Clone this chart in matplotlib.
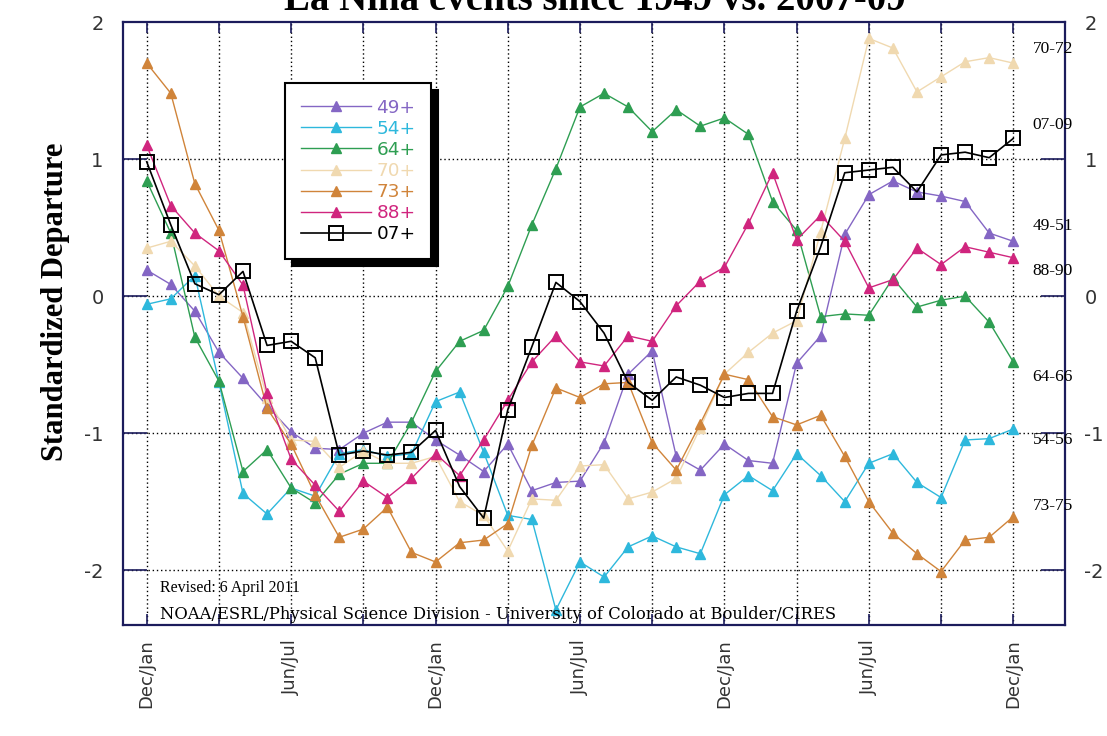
import matplotlib
matplotlib.use("Agg")
import matplotlib.pyplot as plt

# ---------------- data ----------------
periods = list(range(37))
tick_positions = [0, 6, 12, 18, 24, 30, 36]
tick_labels = ["Dec/Jan", "Jun/Jul", "Dec/Jan", "Jun/Jul", "Dec/Jan", "Jun/Jul", "Dec/Jan"]

s49 = [0.19, 0.085, -0.11, -0.41, -0.60, -0.80, -0.99, -1.11, -1.12, -1.00, -0.92, -0.92,
       -1.05, -1.16, -1.28, -1.08, -1.42, -1.36, -1.35, -1.07, -0.57, -0.40, -1.17, -1.27,
       -1.08, -1.20, -1.22, -0.49, -0.29, 0.45, 0.74, 0.84, 0.76, 0.73, 0.69, 0.46, 0.40]
s54 = [-0.06, -0.02, 0.15, -0.63, -1.44, -1.59, -1.40, -1.46, -1.15, -1.12, -1.17, -1.15,
       -0.77, -0.70, -1.14, -1.60, -1.63, -2.29, -1.94, -2.05, -1.83, -1.75, -1.83, -1.88,
       -1.45, -1.31, -1.42, -1.15, -1.31, -1.50, -1.22, -1.15, -1.36, -1.47, -1.05, -1.04, -0.97]
s64 = [0.84, 0.46, -0.30, -0.62, -1.28, -1.12, -1.40, -1.51, -1.30, -1.22, -1.22, -0.92,
       -0.55, -0.33, -0.25, 0.07, 0.52, 0.93, 1.38, 1.48, 1.38, 1.20, 1.36, 1.24,
       1.30, 1.18, 0.69, 0.48, -0.15, -0.13, -0.14, 0.13, -0.08, -0.03, 0.00, -0.19, -0.48]
s70 = [0.35, 0.40, 0.22, 0.00, -0.12, -0.74, -1.05, -1.06, -1.25, -1.13, -1.22, -1.22,
       -1.17, -1.50, -1.60, -1.86, -1.48, -1.49, -1.24, -1.23, -1.48, -1.43, -1.33, -0.96,
       -0.57, -0.41, -0.27, -0.18, 0.47, 1.15, 1.88, 1.81, 1.49, 1.60, 1.71, 1.74, 1.70]
s73 = [1.70, 1.48, 0.82, 0.48, -0.15, -0.82, -1.08, -1.45, -1.76, -1.70, -1.54, -1.87,
       -1.94, -1.80, -1.78, -1.66, -1.09, -0.67, -0.74, -0.64, -0.63, -1.07, -1.27, -0.93,
       -0.57, -0.61, -0.88, -0.94, -0.87, -1.17, -1.50, -1.73, -1.88, -2.01, -1.78, -1.76, -1.61]
s88 = [1.10, 0.66, 0.46, 0.33, 0.08, -0.71, -1.19, -1.38, -1.57, -1.35, -1.47, -1.33,
       -1.15, -1.31, -1.05, -0.76, -0.48, -0.29, -0.48, -0.51, -0.29, -0.33, -0.07, 0.11,
       0.21, 0.53, 0.90, 0.41, 0.59, 0.40, 0.06, 0.12, 0.35, 0.23, 0.36, 0.32, 0.28]
s07 = [0.98, 0.52, 0.09, 0.01, 0.18, -0.36, -0.33, -0.45, -1.16, -1.13, -1.16, -1.14,
       -0.98, -1.39, -1.62, -0.83, -0.37, 0.10, -0.04, -0.27, -0.63, -0.76, -0.59, -0.65,
       -0.74, -0.71, -0.71, -0.11, 0.36, 0.90, 0.92, 0.94, 0.76, 1.03, 1.05, 1.01, 1.15]

series_names = ["49+", "54+", "64+", "70+", "73+", "88+", "07+"]
series_values = [s49, s54, s64, s70, s73, s88, s07]
series_colors = ["#8466C4", "#2EB8DC", "#2E9E52", "#F0D9B0", "#D0843A", "#D0257E", "#000000"]

end_labels = ["70-72", "07-09", "49-51", "88-90", "64-66", "54-56", "73-75"]
end_label_y = [1.80, 1.25, 0.51, 0.18, -0.59, -1.05, -1.53]

title = "La Niña events since 1949 vs. 2007-09"
ylabel = "Standardized Departure"
note1 = "Revised: 6 April 2011"
note2 = "NOAA/ESRL/Physical Science Division - University of Colorado at Boulder/CIRES"

# ---------------- figure ----------------
W, H = 1107, 736
fig = plt.figure(figsize=(W / 100, H / 100), dpi=100)
ax = fig.add_axes([123 / W, 1 - 625 / H, (1065 - 123) / W, (625 - 22) / H])

ax.set_xlim(-0.985, 38.15)
ax.set_ylim(-2.40, 2.0)

# grid
for gx in range(0, 37, 3):
    ax.axvline(gx, color="black", lw=1.0, ls=(0, (1, 2)), zorder=1)
for gy in [-2, -1, 0, 1]:
    ax.axhline(gy, color="black", lw=1.0, ls=(0, (1, 2)), zorder=1)

handles = []
for name, vals, col in zip(series_names, series_values, series_colors):
    if name == "07+":
        ln, = ax.plot(periods, vals, color=col, lw=1.2, marker="s", ms=9.5,
                      mfc="none", mec=col, mew=1.4, zorder=5, label=name)
    else:
        ln, = ax.plot(periods, vals, color=col, lw=1.0, marker="^", ms=6.5,
                      mfc=col, mec=col, zorder=3, label=name)
    handles.append(ln)

# spines
for sp in ax.spines.values():
    sp.set_color("#1c1c5c")
    sp.set_linewidth(1.6)

# ticks
ax.set_xticks(list(range(0, 37, 3)))
ax.set_xticklabels([tick_labels[tick_positions.index(t)] if t in tick_positions else ""
                    for t in range(0, 37, 3)], rotation=90, fontsize=13,
                   color="#333333", family="DejaVu Sans")
ax.tick_params(axis="x", direction="in", length=8, width=1.2, color="#1c1c5c",
               top=True, bottom=True, pad=10)
ax.set_yticks([-2, -1, 0, 1, 2])
ax.set_yticklabels(["-2", "-1", "0", "1", "2"], fontsize=14, color="#333333",
                   family="DejaVu Sans")
ax.tick_params(axis="y", direction="in", length=17, width=1.2, color="#1c1c5c",
               left=True, right=True, labelleft=True, labelright=True, pad=14)

# y label
fig.text(55 / W, 1 - 302 / H, ylabel, rotation=90, ha="center", va="center",
         fontsize=22, fontweight="bold", family="Liberation Serif")

# title (clipped at top as in the original)
fig.text(595 / W, 1 - 10 / H, title, ha="center", va="baseline",
         fontsize=28, fontweight="bold", family="Liberation Serif")

# end labels
for lab, yv in zip(end_labels, end_label_y):
    ax.text(36.8, yv, lab, ha="left", va="center", fontsize=12.5,
            family="Liberation Serif", color="black", zorder=6, clip_on=False)

# notes
ax.text(0.039, 0.061, note1, transform=ax.transAxes, ha="left", va="center",
        fontsize=11.5, family="Liberation Serif")
ax.text(0.039, 0.0166, note2, transform=ax.transAxes, ha="left", va="center",
        fontsize=11.8, family="DejaVu Serif")

# legend
leg = ax.legend(handles=handles, loc="upper left", bbox_to_anchor=(0.172, 0.899),
                frameon=True, fancybox=False, edgecolor="black", facecolor="white",
                framealpha=1, labelcolor="linecolor",
                handlelength=3.8, handletextpad=0.3, labelspacing=0.17,
                borderpad=0.85, borderaxespad=0,
                shadow={"color": "black", "alpha": 1, "ox": 5, "oy": -5},
                prop={"family": "DejaVu Sans", "size": 13.3})
leg.get_frame().set_linewidth(1.5)
leg.set_zorder(10)

fig.savefig("out.png", dpi=100)
